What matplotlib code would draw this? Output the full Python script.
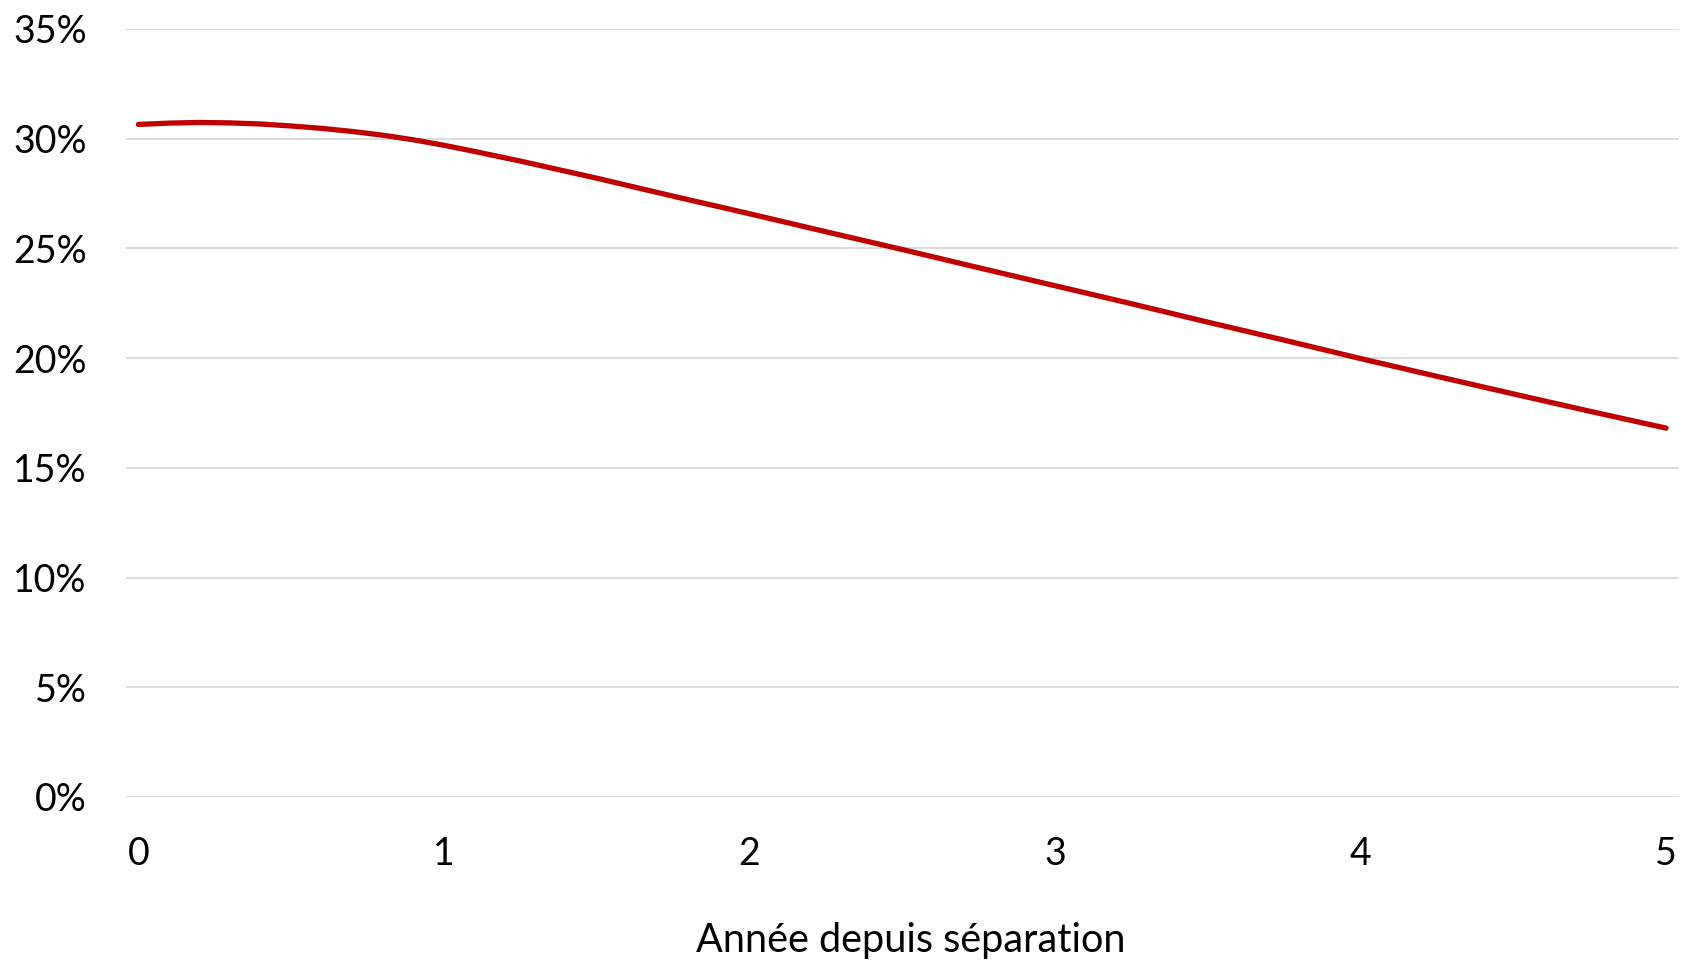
import numpy as np
from matplotlib import pyplot as plt
from matplotlib.ticker import FuncFormatter

# years since separation (finer readings where the curve bends)
annees = [0, 0.1, 0.2, 0.3, 0.4, 0.5, 0.6, 0.7, 0.8, 0.9, 1.0, 1.1, 1.25,
          1.5, 1.75, 2.0, 2.25, 2.5, 2.75, 3.0, 3.25, 3.5, 3.75,
          4.0, 4.25, 4.5, 4.75, 5.0]
# share (%)
part = [30.65, 30.71, 30.74, 30.72, 30.67, 30.58, 30.47, 30.33, 30.16, 29.95, 29.7, 29.42, 28.98,
        28.2, 27.38, 26.58, 25.76, 24.95, 24.12, 23.3, 22.48, 21.64, 20.82,
        19.98, 19.17, 18.37, 17.58, 16.81]
x_ticks = [0, 1, 2, 3, 4, 5]
y_ticks = [0, 5, 10, 15, 20, 25, 30, 35]
x_label = "Année depuis séparation"

plt.rcParams['font.family'] = ['Lato', 'DejaVu Sans']

fig = plt.figure(figsize=(16.84, 9.6), dpi=100)
ax = fig.add_axes([0.0746, 0.1698, 0.9224, 0.8])

ax.plot(annees, part, color="#C00000", linewidth=3.8,
        solid_capstyle="round", solid_joinstyle="round", zorder=3)

ax.set_xlim(-0.042, 5.042)
ax.set_ylim(0, 35)
ax.set_xticks(x_ticks)
ax.set_yticks(y_ticks)
ax.yaxis.set_major_formatter(FuncFormatter(lambda v, p: "{}%".format(int(v))))
ax.grid(axis="y", color="#D9D9D9", linewidth=1.3)
ax.set_axisbelow(True)
for s in ax.spines.values():
    s.set_visible(False)
ax.tick_params(axis="both", length=0, labelsize=27, colors="black")
ax.tick_params(axis="y", pad=28)
ax.tick_params(axis="x", pad=28)
ax.set_xlabel(x_label, fontsize=28.5, labelpad=36, x=0.5055)

fig.savefig("out.png", dpi=100, facecolor="white")
